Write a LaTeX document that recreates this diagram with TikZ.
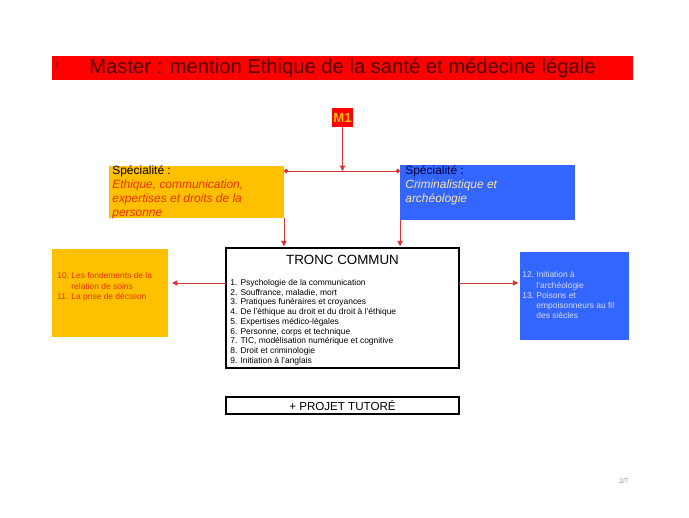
\documentclass[tikz,border=0pt]{standalone}
\usepackage{fontspec}
\setmainfont{Liberation Sans}
\newfontfamily\pagefont{Liberation Serif}
\usetikzlibrary{arrows.meta}

\definecolor{barred}{RGB}{255,0,0}
\definecolor{bartext}{RGB}{80,0,0}
\definecolor{gold}{RGB}{255,192,0}
\definecolor{royal}{RGB}{51,102,255}
\definecolor{redtext}{RGB}{230,50,0}
\definecolor{paletext}{RGB}{255,228,160}
\definecolor{navytext}{RGB}{0,0,60}
\definecolor{lilactext}{RGB}{215,220,245}
\definecolor{linkred}{RGB}{220,50,50}

\begin{document}
\begin{tikzpicture}[
    x=0.02cm, y=-0.02cm,
    plainbox/.style={
      rectangle, inner sep=0pt, outer sep=0pt
    },
    specbox/.style={
      plainbox, minimum width=3.5cm
    },
    optbox/.style={
      plainbox, minimum height=1.78cm
    },
    framebox/.style={
      plainbox, draw=black, line width=1.6pt, minimum width=4.66cm
    },
    boxtext/.style={
      anchor=north west, inner sep=0pt, align=left
    },
    link/.style={linkred, line width=0.5pt},
    arr/.style={link, -{Triangle[length=3pt, width=3pt]}},
    dots/.style={link, {Circle[length=2.5pt]}-{Circle[length=2.5pt]}},
]

\useasboundingbox (0,0) rectangle (689,517);

% ===== TITLE =====
\node[plainbox, fill=barred, minimum width=11.62cm, minimum height=0.48cm,
  text=bartext, font=\fontsize{11.5}{13}\selectfont] (title) at (342.5,68)
  {Master : mention Ethique de la santé et médecine légale};
\node[inner sep=0pt, text=bartext, font=\fontsize{4}{5}\selectfont] (titlenum) at (57,65) {1};

% ===== M1 =====
\node[plainbox, fill=barred, minimum width=0.42cm, minimum height=0.38cm,
  text=gold, font=\fontsize{7.5}{9}\bfseries] (m1) at (342.5,117.5) {M1};

% ===== SPECIALITES =====
\node[specbox, fill=gold, minimum height=1.04cm] (spec1) at (196.5,192) {};
\node[boxtext, font=\fontsize{6.8}{8.0}\selectfont] (spec1txt)
  at ([shift={(3,-1)}]spec1.north west)
  {Spécialité :\\
   \textcolor{redtext}{\itshape Ethique, communication,}\\
   \textcolor{redtext}{\itshape expertises et droits de la}\\
   \textcolor{redtext}{\itshape personne}};

\node[specbox, fill=royal, minimum height=1.1cm] (spec2) at (487.5,192.5) {};
\node[boxtext, font=\fontsize{6.8}{8.0}\selectfont, text=navytext] (spec2txt)
  at ([shift={(5,0)}]spec2.north west)
  {Spécialité :\\
   \textcolor{paletext}{\itshape Criminalistique et}\\
   \textcolor{paletext}{\itshape archéologie}};

% ===== TRONC COMMUN =====
\node[framebox, minimum height=2.4cm] (tronc) at (342.5,308) {};
\node[inner sep=0pt, anchor=north, font=\fontsize{7.6}{9}\selectfont] (tronctitle)
  at ([shift={(0,7)}]tronc.north) {TRONC COMMUN};
\node[boxtext, font=\fontsize{4.8}{5.55}\selectfont] (tronclist)
  at ([shift={(4,31)}]tronc.north west)
  {1. Psychologie de la communication\\
   2. Souffrance, maladie, mort\\
   3. Pratiques funéraires et croyances\\
   4. De l'éthique au droit et du droit à l'éthique\\
   5. Expertises médico-légales\\
   6. Personne, corps et technique\\
   7. TIC, modélisation numérique et cognitive\\
   8. Droit et criminologie\\
   9. Initiation à l'anglais};

% ===== OPTIONS =====
\node[optbox, fill=gold, minimum width=2.32cm] (opt1) at (110,293) {};
\node[boxtext, text=redtext, font=\fontsize{4.8}{5.8}\selectfont] (opt1txt)
  at ([shift={(5,23)}]opt1.north west)
  {\begin{tabular}{@{}l@{\ }l@{}}
   10. & Les fondements de la\\
       & relation de soins\\
   11. & La prise de décision
   \end{tabular}};

\node[optbox, fill=royal, minimum width=2.18cm] (opt2) at (574.5,296) {};
\node[boxtext, text=lilactext, font=\fontsize{4.8}{5.8}\selectfont] (opt2txt)
  at ([shift={(2,19)}]opt2.north west)
  {\begin{tabular}{@{}l@{\ }l@{}}
   12. & Initiation à\\
       & l'archéologie\\
   13. & Poisons et\\
       & empoisonneurs au fil\\
       & des siècles
   \end{tabular}};

% ===== PROJET =====
\node[framebox, line width=1.4pt, minimum height=0.34cm,
  font=\fontsize{6.6}{7.5}\selectfont] (projet) at (342.5,405.5) {+ PROJET TUTORÉ};

% ===== PAGE NUMBER =====
\node[inner sep=0pt, text=black!55, font=\pagefont\fontsize{4}{5}\selectfont] (pagenum)
  at (624,481) {2/7};

% ===== CONNECTORS =====
\coordinate (join) at (342.5,171);
\coordinate (side) at (342.5,283);
\draw[dots] (spec1.east |- join) -- (spec2.west |- join);
\draw[arr] (m1) -- (join);
\draw[arr, shorten >=1pt] (spec1.south east) -- (spec1.south east |- tronc.north);
\draw[arr, shorten >=1pt] (spec2.south west) -- (spec2.south west |- tronc.north);
\draw[arr, shorten >=2.3pt] (tronc.west |- side) -- (opt1.east |- side);
\draw[arr, shorten >=1pt] (tronc.east |- side) -- (opt2.west |- side);

\end{tikzpicture}
\end{document}
